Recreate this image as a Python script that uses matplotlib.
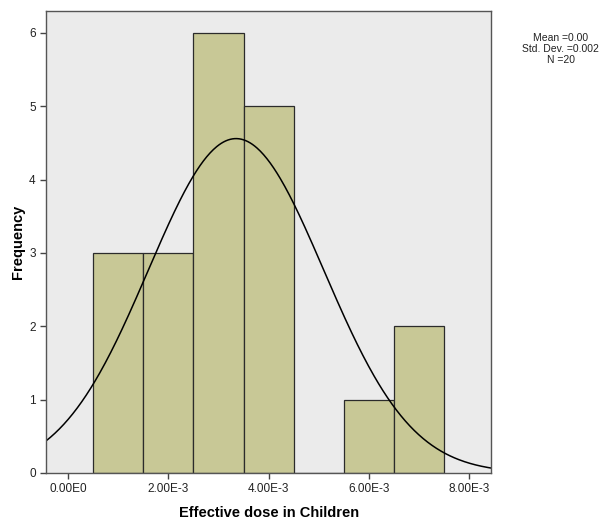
import numpy as np
import matplotlib
matplotlib.use("Agg")
import matplotlib.pyplot as plt

plt.rcParams['font.family'] = ['Liberation Sans', 'DejaVu Sans']

# histogram data
bin_edges = [0.0005, 0.0015, 0.0025, 0.0035, 0.0045, 0.0055, 0.0065, 0.0075]
counts = [3, 3, 6, 5, 0, 1, 2]
# normal curve parameters (fitted by eye)
mu = 0.00335
sigma = 0.00175
n_total = 20

xticks = [0.0, 0.002, 0.004, 0.006, 0.008]
xtick_labels = ["0.00E0", "2.00E-3", "4.00E-3", "6.00E-3", "8.00E-3"]
yticks = [0, 1, 2, 3, 4, 5, 6]

fig = plt.figure(figsize=(6.14, 5.22), dpi=100)
ax = fig.add_axes([0.075, 0.094, 0.725, 0.885])
ax.set_facecolor('#ebebeb')

edges = np.array(bin_edges)
widths = np.diff(edges)
ax.bar(edges[:-1], counts, width=widths, align='edge',
       color='#c8c896', edgecolor='#2b2b2b', linewidth=0.9)

xmin, xmax = -0.00044, 0.00844
xs = np.linspace(xmin, xmax, 400)
bw = widths[0]
ys = n_total * bw / (sigma * np.sqrt(2 * np.pi)) * np.exp(-0.5 * ((xs - mu) / sigma) ** 2)
ax.plot(xs, ys, color='black', linewidth=1.1)

ax.set_xlim(xmin, xmax)
ax.set_ylim(0, 6.3)
ax.set_xticks(xticks)
ax.set_xticklabels(xtick_labels)
ax.set_yticks(yticks)
ax.tick_params(direction='out', length=4, width=1, colors='#444444',
               labelsize=8.5, labelcolor='#222222')
for s in ax.spines.values():
    s.set_color('#555555')
    s.set_linewidth(1)

ax.set_xlabel("Effective dose in Children", fontsize=10.5, fontweight='bold', labelpad=8)
ax.set_ylabel("Frequency", fontsize=10.5, fontweight='bold', labelpad=3)

fig.text(0.913, 0.906, "Mean =0.00\nStd. Dev. =0.002\nN =20", ha='center', va='center',
         fontsize=7.5, linespacing=1.1, color='#222222')

fig.savefig("out.png", dpi=100)
